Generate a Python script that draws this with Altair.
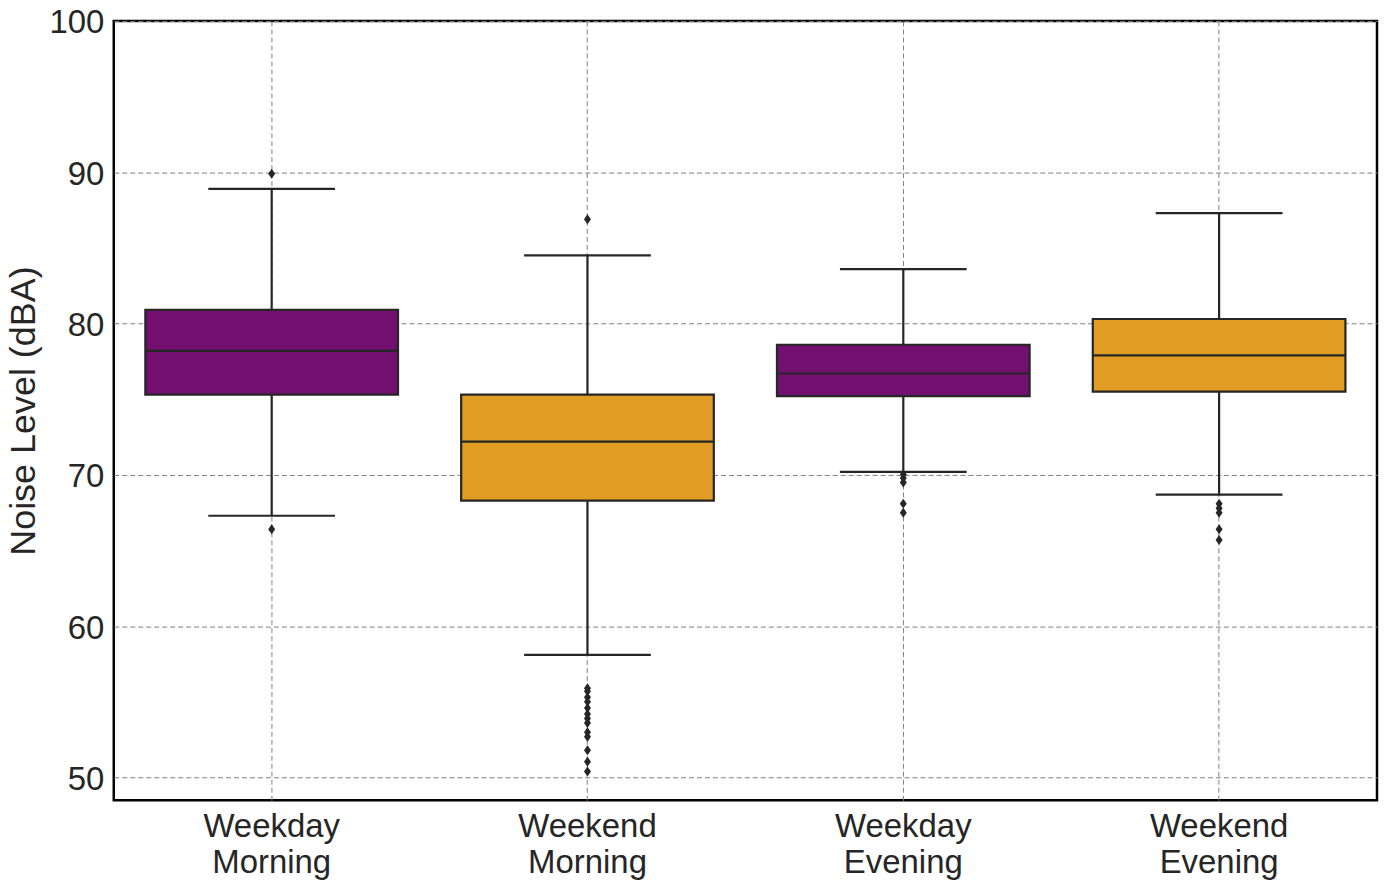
import altair as alt
import pandas as pd

categories = ["Weekday Morning", "Weekend Morning", "Weekday Evening", "Weekend Evening"]
q1 = [75.3, 68.3, 75.2, 75.5]
median = [78.2, 72.2, 76.7, 77.9]
q3 = [80.9, 75.3, 78.6, 80.3]
whisker_lo = [67.3, 58.1, 70.2, 68.7]
whisker_hi = [88.9, 84.5, 83.6, 87.3]
colors = ["#720f6f", "#e09c23", "#720f6f", "#e09c23"]

outlier_cat = (["Weekday Morning"] * 2
               + ["Weekend Morning"] * 14
               + ["Weekday Evening"] * 5
               + ["Weekend Evening"] * 5)
outlier_val = ([89.9, 66.4]
               + [86.9, 55.9, 55.7, 55.3, 55.0, 54.6, 54.2, 53.9, 53.6, 53.0, 52.7, 51.8, 51.05, 50.4]
               + [70.05, 69.8, 69.5, 68.1, 67.5]
               + [68.1, 67.8, 67.5, 66.4, 65.7])

box = pd.DataFrame({
    "cat": categories, "q1": q1, "median": median, "q3": q3,
    "lo": whisker_lo, "hi": whisker_hi, "color": colors,
})
out = pd.DataFrame({"cat": outlier_cat, "val": outlier_val})

ink = "#262626"
font = "Liberation Sans"
xenc = alt.X("cat:N", sort=categories, title=None,
             scale=alt.Scale(paddingInner=0, paddingOuter=0),
             axis=alt.Axis(labelAngle=0, labelFontSize=33, labelColor=ink,
                           labelFont=font, labelPadding=10,
                           labelExpr="split(datum.label, ' ')", labelLineHeight=36,
                           domain=False, ticks=False, grid=True,
                           gridColor="#808080", gridDash=[5, 3], gridWidth=1))
yscale = alt.Scale(domain=[48.5, 100], nice=False, zero=False)
yaxis = alt.Axis(values=[50, 60, 70, 80, 90, 100], labelFontSize=33, labelColor=ink,
                 labelFont=font, labelPadding=10, labelOffset=2,
                 title="Noise Level (dBA)", titleFontSize=36, titleFont=font,
                 titleFontWeight="normal", titleColor=ink, titlePadding=6,
                 domain=False, ticks=False, grid=True,
                 gridColor="#808080", gridDash=[5, 3], gridWidth=1)

base = alt.Chart(box).encode(x=xenc)

whisk_low = base.mark_rule(color=ink, strokeWidth=2.2).encode(
    y=alt.Y("lo:Q", scale=yscale, axis=yaxis), y2="q1:Q")
whisk_high = base.mark_rule(color=ink, strokeWidth=2.2).encode(
    y=alt.Y("q3:Q", scale=yscale), y2="hi:Q")
cap_lo = base.mark_tick(color=ink, size=127, thickness=2.2, opacity=1).encode(y=alt.Y("lo:Q", scale=yscale))
cap_hi = base.mark_tick(color=ink, size=127, thickness=2.2, opacity=1).encode(y=alt.Y("hi:Q", scale=yscale))
boxes = base.mark_bar(stroke=ink, strokeWidth=2.2, width=alt.RelativeBandSize(0.8), opacity=1).encode(
    y=alt.Y("q1:Q", scale=yscale), y2="q3:Q",
    color=alt.Color("color:N", scale=None, legend=None))
med = base.mark_tick(color=ink, size=253, thickness=2.2, opacity=1).encode(y=alt.Y("median:Q", scale=yscale))

pts = alt.Chart(out).mark_point(
    shape="M0,-1L0.7,0L0,1L-0.7,0Z", filled=True, color=ink, size=100, opacity=1
).encode(x=alt.X("cat:N", sort=categories), y=alt.Y("val:Q", scale=yscale))

chart = alt.layer(whisk_low, whisk_high, cap_lo, cap_hi, boxes, med, pts).properties(
    width=1266, height=781,
    autosize=alt.AutoSizeParams(type="none"),
    padding={"left": 106, "top": 12, "right": 4, "bottom": 80},
    background="white",
).configure_view(stroke="black", strokeWidth=2.5)

chart.save("out.html", embed_options={"renderer": "svg", "actions": False})
